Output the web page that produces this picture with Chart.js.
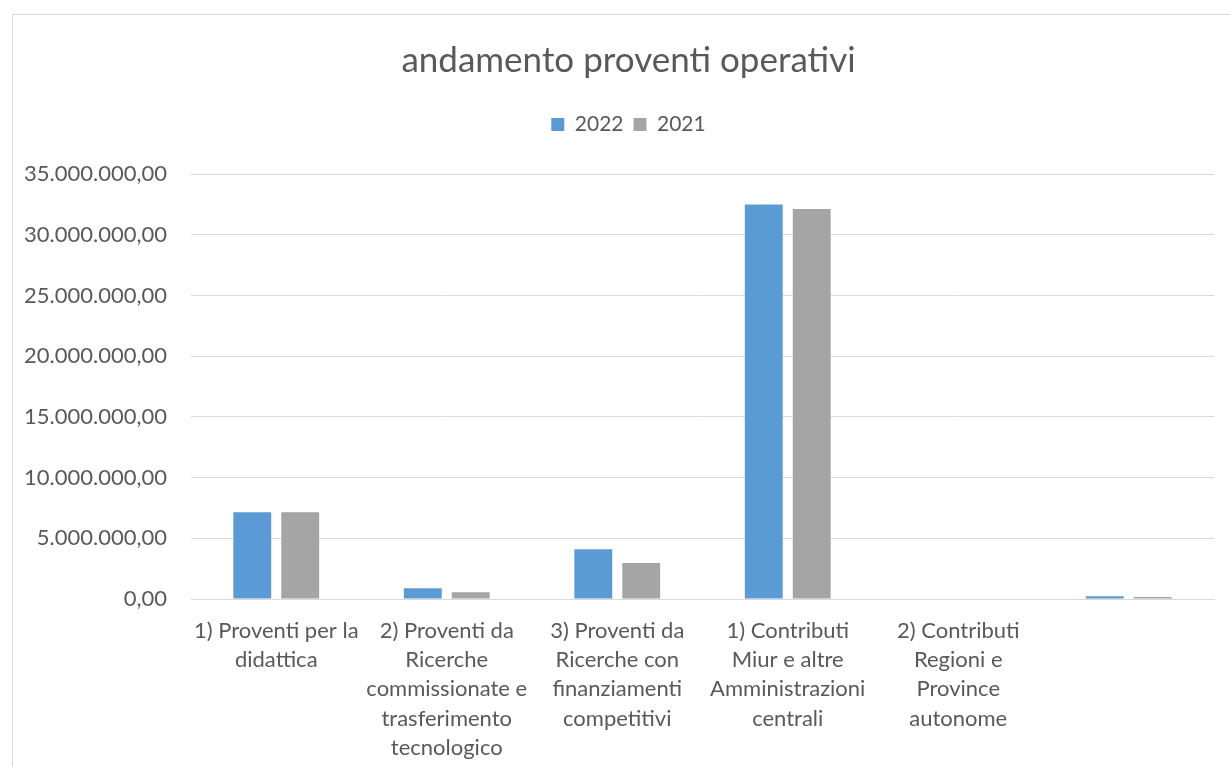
<!DOCTYPE html>
<html>
<head>
<meta charset="utf-8">
<script src="https://cdn.jsdelivr.net/npm/chart.js@4"></script>
<style>
  html, body { margin: 0; padding: 0; background: #fff; overflow: hidden; }
  #box {
    position: absolute; left: 12px; top: 14px;
    width: 1230px; height: 767px;
    border: 1px solid #d9d9d9; box-sizing: border-box;
  }
  #wrap { position: absolute; left: 0; top: 0; width: 1218px; height: 753px; }
</style>
</head>
<body>
<div id="box"><div id="wrap"><canvas id="chart"></canvas></div></div>
<script>
// categories (multi-line labels as in the source)
const categories = [
  ["1) Proventi per la", "didattica"],
  ["2) Proventi da", "Ricerche", "commissionate e", "trasferimento", "tecnologico"],
  ["3) Proventi da", "Ricerche con", "finanziamenti", "competitivi"],
  ["1) Contributi", "Miur e altre", "Amministrazioni", "centrali"],
  ["2) Contributi", "Regioni e", "Province", "autonome"],
  ""
];
const values2022 = [7150000, 880000, 4100000, 32480000, 0, 220000];
const values2021 = [7150000, 550000, 2970000, 32120000, 0, 160000];
const yTicks = [0, 5000000, 10000000, 15000000, 20000000, 25000000, 30000000, 35000000];

function formatIt(v) {
  const parts = Math.round(v).toString().replace(/\B(?=(\d{3})+(?!\d))/g, ".");
  return parts + ",00";
}

const textColor = "#595959";
const gridColor = "#d9d9d9";
const fontFamily = "Lato, 'Open Sans', sans-serif";

// extra room under the legend, and title/legend nudged right like the original
const headerTweak = {
  id: "headerTweak",
  afterInit(chart) {
    const fit = chart.legend.fit;
    chart.legend.fit = function () {
      fit.call(this);
      this.height += 29;
    };
  },
  afterLayout(chart) {
    [chart.titleBlock, chart.legend].forEach(b => {
      b.left += 15;
      b.right += 15;
    });
  }
};

new Chart(document.getElementById("chart"), {
  type: "bar",
  data: {
    labels: categories,
    datasets: [
      {
        label: "2022",
        data: values2022,
        backgroundColor: "#5b9bd5",
        categoryPercentage: 0.5625,
        barPercentage: 0.79
      },
      {
        label: "2021",
        data: values2021,
        backgroundColor: "#a5a5a5",
        categoryPercentage: 0.5625,
        barPercentage: 0.79
      }
    ]
  },
  plugins: [headerTweak],
  options: {
    responsive: true,
    maintainAspectRatio: false,
    animation: false,
    layout: { padding: { top: 20, right: 17, left: 0, bottom: 0 } },
    plugins: {
      title: {
        display: true,
        text: "andamento proventi operativi",
        color: textColor,
        font: { family: fontFamily, size: 35, weight: "normal" },
        padding: { top: 5, bottom: 22 }
      },
      legend: {
        labels: {
          color: textColor,
          font: { family: fontFamily, size: 21 },
          boxWidth: 13,
          boxHeight: 13,
          padding: 10
        }
      },
      tooltip: { enabled: false }
    },
    scales: {
      x: {
        grid: { display: false },
        border: { color: gridColor },
        ticks: {
          color: textColor,
          font: { family: fontFamily, size: 22, lineHeight: 1.33 },
          maxRotation: 0,
          autoSkip: false,
          padding: 9
        },
        afterFit: function (scale) { scale.height = 169; }
      },
      y: {
        min: 0,
        max: 35000000,
        grid: { color: gridColor, drawTicks: false },
        border: { display: false },
        afterBuildTicks: function (scale) {
          scale.ticks = yTicks.map(v => ({ value: v }));
        },
        ticks: {
          color: textColor,
          font: { family: fontFamily, size: 22 },
          padding: 24,
          callback: function (v) { return formatIt(v); }
        },
        afterFit: function (scale) { scale.width = 178; }
      }
    }
  }
});
</script>
</body>
</html>
